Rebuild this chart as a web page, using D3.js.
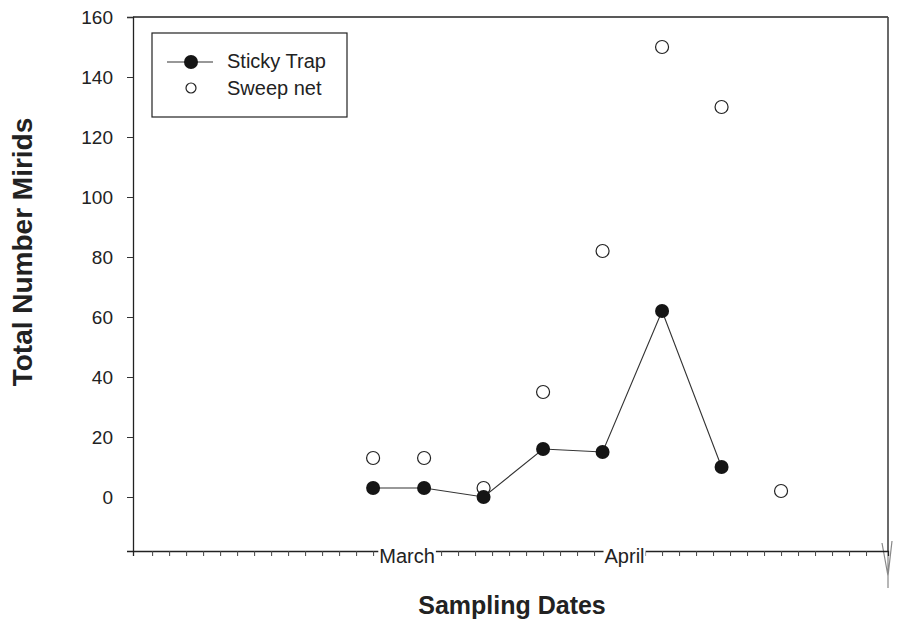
<!DOCTYPE html>
<html>
<head>
<meta charset="utf-8">
<script src="https://cdn.jsdelivr.net/npm/d3@7"></script>
<style>
  body { margin: 0; background: #fff; }
  svg { display: block; font-family: "Liberation Sans", Arial, sans-serif; }
</style>
</head>
<body>
<div id="plot"></div>
<script>
// sampling dates (weekly-ish)
const stickyDates = ['2001-03-04', '2001-03-10', '2001-03-17', '2001-03-24', '2001-03-31', '2001-04-07', '2001-04-14'];
const stickyValues = [3, 3, 0, 16, 15, 62, 10];
const sweepDates = ['2001-03-04', '2001-03-10', '2001-03-17', '2001-03-24', '2001-03-31', '2001-04-07', '2001-04-14', '2001-04-21'];
const sweepValues = [13, 13, 3, 35, 82, 150, 130, 2];
const yTicks = [0, 20, 40, 60, 80, 100, 120, 140, 160];
const monthLabels = ['March', 'April'];
const monthLabelDates = ['2001-03-08T00:00:00Z', '2001-04-02T14:00:00Z'];

const W = 903, H = 621;
const margin = { top: 17, right: 15, bottom: 70, left: 133 };
const parse = d3.isoParse;

const svg = d3.select('#plot').append('svg')
  .attr('width', W)
  .attr('height', H);

const x = d3.scaleUtc()
  .domain([parse('2001-02-03T18:00:00Z'), parse('2001-05-03T14:00:00Z')])
  .range([margin.left, W - margin.right]);
const y = d3.scaleLinear()
  .domain([-18, 160])
  .range([H - margin.bottom, margin.top]);

const sticky = stickyDates.map(function(d, i) { return { d: parse(d), v: stickyValues[i] }; });
const sweep = sweepDates.map(function(d, i) { return { d: parse(d), v: sweepValues[i] }; });

/* Frame: top and right edges */
svg.append('line')
  .attr('x1', margin.left).attr('x2', W - margin.right)
  .attr('y1', y(160)).attr('y2', y(160))
  .attr('stroke', '#222').attr('stroke-width', 1.3);
svg.append('line')
  .attr('x1', W - margin.right).attr('x2', W - margin.right)
  .attr('y1', y(160)).attr('y2', y(-18))
  .attr('stroke', '#444').attr('stroke-width', 1.6);
// scanner smear below the right edge
svg.append('path')
  .attr('d', `M${W - margin.right},${y(-18)} L${W - margin.right},${H - 33} M${W - margin.right - 6},${y(-18) - 8} L${W - margin.right},${H - 45} L${W - margin.right + 4},${y(-18) - 10}`)
  .attr('fill', 'none').attr('stroke', '#888').attr('stroke-width', 1.2);

/* Y axis */
const yAxis = d3.axisLeft(y).tickValues(yTicks).tickSize(6).tickPadding(14);
const gy = svg.append('g')
  .attr('transform', `translate(${margin.left},0)`)
  .call(yAxis);
gy.select('.domain').attr('stroke', '#222').attr('stroke-width', 1.3);
gy.selectAll('.tick line').attr('stroke', '#333');
gy.selectAll('.tick text')
  .attr('font-size', 19)
  .attr('fill', '#222');

/* X axis: minor ticks every 2 days */
const minorTicks = d3.utcDay.range(parse('2001-02-06'), parse('2001-05-03'), 2);
const xAxis = d3.axisBottom(x).tickValues(minorTicks).tickSize(5).tickFormat('');
const gx = svg.append('g')
  .attr('transform', `translate(0,${y(-18)})`)
  .call(xAxis);
gx.select('.domain').attr('stroke', '#222').attr('stroke-width', 1.3);
gx.selectAll('.tick line').attr('stroke', '#444');

// month labels sit on the axis line with a white backing
const gm = svg.append('g');
monthLabels.forEach(function(m, i) {
  const t = gm.append('text')
    .attr('x', x(parse(monthLabelDates[i])))
    .attr('y', y(-18) + 12)
    .attr('text-anchor', 'middle')
    .attr('font-size', 20)
    .attr('fill', '#222')
    .text(m);
  const bb = t.node().getBBox();
  gm.insert('rect', function() { return t.node(); })
    .attr('x', bb.x - 1).attr('y', y(-18) - 1)
    .attr('width', bb.width + 2).attr('height', 8)
    .attr('fill', '#fff');
});

/* Axis titles */
svg.append('text')
  .attr('transform', 'translate(32,252) rotate(-90)')
  .attr('text-anchor', 'middle')
  .attr('font-size', 28)
  .attr('font-weight', 'bold')
  .attr('fill', '#222')
  .text('Total Number Mirids');
svg.append('text')
  .attr('x', 512)
  .attr('y', 614)
  .attr('text-anchor', 'middle')
  .attr('font-size', 25)
  .attr('font-weight', 'bold')
  .attr('fill', '#222')
  .text('Sampling Dates');

/* Sweep net: open circles */
svg.selectAll('circle.sweep')
  .data(sweep)
  .enter().append('circle')
  .attr('class', 'sweep')
  .attr('cx', function(d) { return x(d.d); })
  .attr('cy', function(d) { return y(d.v); })
  .attr('r', 6.5)
  .attr('fill', '#fff')
  .attr('stroke', '#222')
  .attr('stroke-width', 1.2);

/* Sticky trap: line + filled circles */
const line = d3.line()
  .x(function(d) { return x(d.d); })
  .y(function(d) { return y(d.v); });
svg.append('path')
  .datum(sticky)
  .attr('d', line)
  .attr('fill', 'none')
  .attr('stroke', '#333')
  .attr('stroke-width', 1.1);
svg.selectAll('circle.sticky')
  .data(sticky)
  .enter().append('circle')
  .attr('class', 'sticky')
  .attr('cx', function(d) { return x(d.d); })
  .attr('cy', function(d) { return y(d.v); })
  .attr('r', 7)
  .attr('fill', '#151515');

/* Legend */
const lg = svg.append('g').attr('transform', 'translate(152,33)');
lg.append('rect')
  .attr('width', 195).attr('height', 84)
  .attr('fill', '#fff')
  .attr('stroke', '#222').attr('stroke-width', 1.2);
lg.append('line')
  .attr('x1', 15).attr('x2', 61)
  .attr('y1', 29).attr('y2', 29)
  .attr('stroke', '#333').attr('stroke-width', 1.1);
lg.append('circle')
  .attr('cx', 39).attr('cy', 29).attr('r', 7)
  .attr('fill', '#151515');
lg.append('circle')
  .attr('cx', 39).attr('cy', 55).attr('r', 5)
  .attr('fill', '#fff').attr('stroke', '#222').attr('stroke-width', 1.2);
lg.append('text')
  .attr('x', 75).attr('y', 35)
  .attr('font-size', 20).attr('fill', '#222')
  .text('Sticky Trap');
lg.append('text')
  .attr('x', 75).attr('y', 62)
  .attr('font-size', 20).attr('fill', '#222')
  .text('Sweep net');
</script>
</body>
</html>
